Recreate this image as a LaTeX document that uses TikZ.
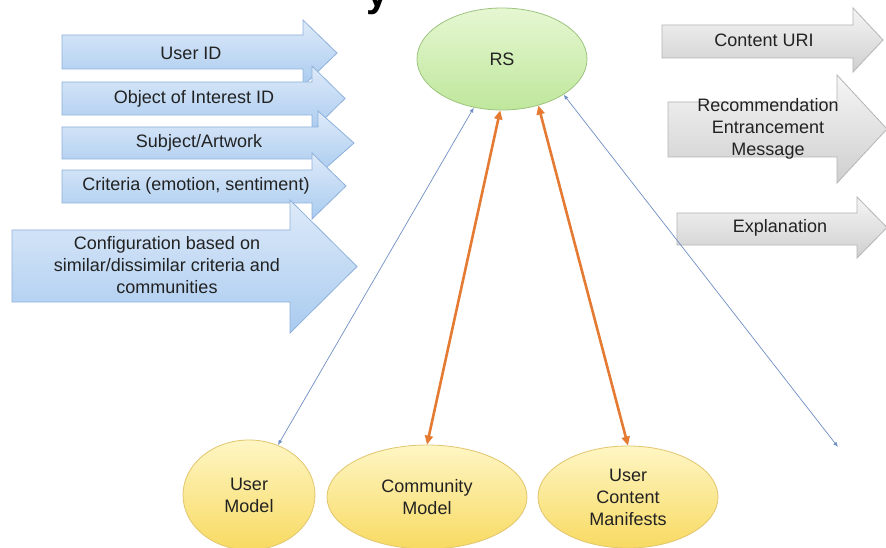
\documentclass[tikz,border=0pt]{standalone}
\usepackage{fontspec}
\setmainfont{Liberation Sans}
\usetikzlibrary{shapes.geometric,arrows.meta}
\definecolor{bluetop}{HTML}{DEEAF9}
\definecolor{bluebot}{HTML}{A9CBEF}
\definecolor{blueedge}{HTML}{8EB1DC}
\definecolor{greytop}{HTML}{F5F5F5}
\definecolor{greybot}{HTML}{CFCFCF}
\definecolor{greyedge}{HTML}{B5B5B5}
\definecolor{yeltop}{HTML}{FEF6C4}
\definecolor{yelbot}{HTML}{F8DA62}
\definecolor{yeledge}{HTML}{E2C56C}
\definecolor{greentop}{HTML}{E6F7D2}
\definecolor{greenbot}{HTML}{BFE79C}
\definecolor{greenedge}{HTML}{9DC47E}
\definecolor{linkblue}{HTML}{6F8FC4}
\definecolor{feedorange}{HTML}{E57B33}
\definecolor{textgray}{HTML}{222222}

% block arrow: style, x0, head base, tip, body top, body bottom, head top, head bottom
\newcommand{\flowarrow}[8]{%
  \path[#1] (#2,#5) -- (#3,#5) -- (#3,#7) -- (#4,{(#7+#8)/2}) -- (#3,#8)
    -- (#3,#6) -- (#2,#6) -- cycle;}

\tikzset{
  lbl/.style={text=textgray, align=center, inner sep=0,
    font=\fontsize{18}{22}\selectfont},
  blueflow/.style={draw=blueedge, line width=0.8pt, top color=bluetop, bottom color=bluebot},
  greyflow/.style={draw=greyedge, line width=0.8pt, top color=greytop, bottom color=greybot},
  model/.style={ellipse, draw=yeledge, line width=0.8pt, top color=yeltop,
    bottom color=yelbot, lbl},
  link/.style={draw=linkblue, line width=0.7pt,
    {Latex[length=5pt,width=4pt]}-{Latex[length=5pt,width=4pt]}},
  feed/.style={draw=feedorange, line width=2.6pt,
    {Triangle[length=9pt,width=8pt]}-{Triangle[length=9pt,width=8pt]}}
}

\begin{document}
\begin{tikzpicture}[x=1pt,y=-1pt]
\useasboundingbox (0,0) rectangle (886,548);
\fill[white] (0,0) rectangle (886,548);
% cut-off title
\node[anchor=south west, inner sep=0, font=\fontsize{40}{48}\bfseries\selectfont] (title) at (366,15) {y};

% inputs
\flowarrow{blueflow}{62}{303}{337}{35}{69}{20}{86}
\flowarrow{blueflow}{62}{312}{345}{82}{115}{66}{131}
\flowarrow{blueflow}{62}{318}{354}{127}{159}{111}{175}
\flowarrow{blueflow}{62}{312}{346}{170}{203}{153}{219}
\flowarrow{blueflow}{12}{290}{357}{230}{302}{200}{333}
\node[lbl] (uid) at (191,53) {User ID};
\node[lbl] (oid) at (194,99) {Object of Interest ID};
\node[lbl] (subj) at (199,143) {Subject/Artwork};
\node[lbl] (crit) at (196,186) {Criteria (emotion, sentiment)};
\node[lbl] (conf) at (167,265) {Configuration based on\\similar/dissimilar criteria and\\communities};

% outputs
\flowarrow{greyflow}{662}{853}{883}{25}{58}{8}{72}
\flowarrow{greyflow}{668}{837}{887}{102}{157}{75}{183}
\flowarrow{greyflow}{677}{857}{887}{213}{245}{197}{258}
\node[lbl] (uri) at (764,40) {Content URI};
\node[lbl] (msg) at (768,129) {Recommendation\\Entrancement\\Message};
\node[lbl] (expl) at (780,228) {Explanation};

% models
\node[ellipse, draw=greenedge, line width=0.8pt, top color=greentop, bottom color=greenbot,
  minimum width=170pt, minimum height=102pt, lbl] (rs) at (502,59) {RS};
\node[model, minimum width=132pt, minimum height=110pt] (um) at (249,495) {User\\Model};
\node[model, minimum width=200pt, minimum height=104pt] (cm) at (427,497) {Community\\Model};
\node[model, minimum width=180pt, minimum height=102pt] (ucm) at (628,497) {User\\Content\\Manifests};

% links
\coordinate (tail) at (838,447);
\draw[link] (rs) -- (um);
\draw[link] (rs.-30) -- (tail);
\draw[feed] (rs.268) -- (cm.north);
\draw[feed] (rs.-52) -- (ucm.north);
\end{tikzpicture}
\end{document}
